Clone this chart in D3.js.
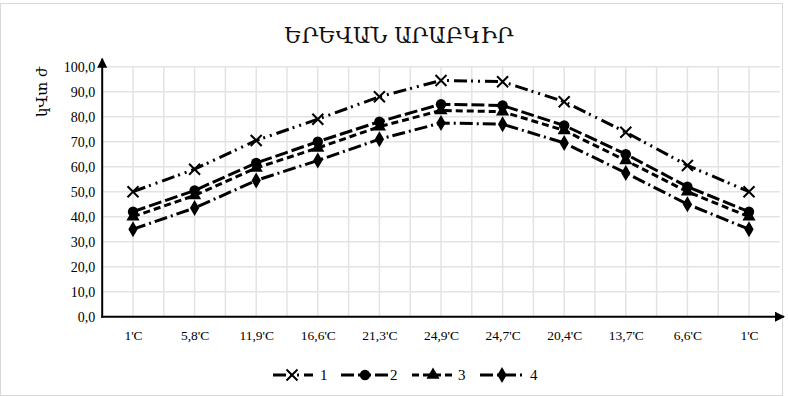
<!DOCTYPE html>
<html>
<head>
<meta charset="utf-8">
<script src="https://cdn.jsdelivr.net/npm/d3@7"></script>
<style>
  html, body { margin: 0; padding: 0; background: #fff; }
  svg { display: block; }
</style>
</head>
<body>
<div id="chart"></div>
<script>
// Monthly mean temperatures (category labels) and the four consumption series
const categories = ["1'C", "5,8'C", "11,9'C", "16,6'C", "21,3'C", "24,9'C", "24,7'C", "20,4'C", "13,7'C", "6,6'C", "1'C"];
const series1 = [50, 59, 70.5, 79, 88, 94.5, 94, 86, 73.8, 60.5, 50];
const series2 = [42, 50.5, 61.5, 70, 78, 85, 84.5, 76.5, 65, 52, 42];
const series3 = [40, 48.5, 59.5, 67.5, 76, 82.5, 82, 74.5, 62.5, 50, 40];
const series4 = [35, 43.5, 54.5, 62.5, 71, 77.5, 77, 69.5, 57.5, 45, 35];
const seriesNames = ["1", "2", "3", "4"];
const yTicks = [0, 10, 20, 30, 40, 50, 60, 70, 80, 90, 100];
const titleText = "ԵՐԵՎԱՆ ԱՐԱԲԿԻՐ";
const yTitle = "կՎտ ժ";

const W = 788, H = 396;
const serif = "'Liberation Serif', 'DejaVu Serif', serif";
const armFont = "'DejaVu Serif', serif";

const svg = d3.select("#chart").append("svg")
  .attr("width", W).attr("height", H);

// chart frame
svg.append("rect")
  .attr("x", 0.5).attr("y", 3.5).attr("width", W - 6).attr("height", H - 4)
  .attr("fill", "#fff").attr("stroke", "#d9d9d9").attr("stroke-width", 1);

const x = d3.scalePoint().domain(d3.range(categories.length)).range([133, 749]);
const step = x.step();
const y = d3.scaleLinear().domain([0, 100]).range([316.7, 66.7]);

// gridlines: horizontal at each tick, vertical at categories and between them
const grid = svg.append("g").attr("stroke", "#e3e3e3").attr("stroke-width", 1.5);
yTicks.filter(t => t > 0).forEach(t => {
  grid.append("line").attr("x1", x(0) - step / 2).attr("x2", x(10) + step / 2)
    .attr("y1", y(t)).attr("y2", y(t));
});
for (let i = 1; i <= 2 * (categories.length - 1) + 1; i++) {
  const gx = x(0) - step / 2 + i * step / 2;
  grid.append("line").attr("x1", gx).attr("x2", gx).attr("y1", y(100)).attr("y2", y(0));
}

// y axis labels
const yAxis = d3.axisLeft(y).tickValues(yTicks)
  .tickFormat(d => d3.format(".1f")(d).replace(".", ","))
  .tickSize(0).tickPadding(7);
const yg = svg.append("g").attr("transform", `translate(${x(0) - step / 2},0)`).call(yAxis);
yg.select(".domain").remove();
yg.selectAll("text").attr("font-family", serif).attr("font-size", 14).attr("fill", "#000");

// x axis labels
const xAxis = d3.axisBottom(x).tickFormat(i => categories[i]).tickSize(0).tickPadding(14);
const xg = svg.append("g").attr("transform", `translate(0,${y(0)})`).call(xAxis);
xg.select(".domain").remove();
xg.selectAll("text").attr("font-family", serif).attr("font-size", 13.5).attr("fill", "#000");

// axis lines with arrowheads
const defs = svg.append("defs");
defs.append("marker").attr("id", "arrow").attr("viewBox", "0 0 10 10")
  .attr("refX", 9).attr("refY", 5).attr("markerWidth", 5).attr("markerHeight", 5)
  .attr("markerUnits", "strokeWidth").attr("orient", "auto")
  .append("path").attr("d", "M0,0 L10,5 L0,10 Z").attr("fill", "#000");
const x0 = x(0) - step / 2;
svg.append("line").attr("x1", x0).attr("x2", x0).attr("y1", y(0) + 1).attr("y2", y(100) - 8)
  .attr("stroke", "#000").attr("stroke-width", 2).attr("marker-end", "url(#arrow)");
svg.append("line").attr("x1", x0 - 1).attr("x2", 784).attr("y1", y(0)).attr("y2", y(0))
  .attr("stroke", "#000").attr("stroke-width", 2).attr("marker-end", "url(#arrow)");

// series styles
const dashes = ["13,4,2,5,2,5", "13,4", "7,4", "13,4,2,4"];
const markerSym = [null, d3.symbolCircle, d3.symbolTriangle, d3.symbolDiamond];
const markerSize = [0, 85, 75, 75];
const data = [series1, series2, series3, series4];

function drawMarker(g, k, cx, cy) {
  if (k === 0) {
    const s = 5.5;
    g.append("path").attr("d", `M${cx - s},${cy - s}L${cx + s},${cy + s}M${cx - s},${cy + s}L${cx + s},${cy - s}`)
      .attr("stroke", "#000").attr("stroke-width", 2).attr("fill", "none");
  } else {
    g.append("path").attr("d", d3.symbol().type(markerSym[k]).size(markerSize[k])())
      .attr("transform", `translate(${cx},${cy})`).attr("fill", "#000");
  }
}

const line = d3.line().x((d, i) => x(i)).y(d => y(d));
const plot = svg.append("g");
data.forEach((vals, k) => {
  plot.append("path").datum(vals).attr("d", line)
    .attr("fill", "none").attr("stroke", "#000").attr("stroke-width", 3)
    .attr("stroke-dasharray", dashes[k]);
});
data.forEach((vals, k) => {
  vals.forEach((v, i) => drawMarker(plot, k, x(i), y(v)));
});

// legend
const legendY = 375;
const legendItems = [
  { x1: 273, x2: 313, mx: 292, tx: 320 },
  { x1: 341, x2: 388, mx: 365, tx: 390 },
  { x1: 412, x2: 456, mx: 433, tx: 458 },
  { x1: 480, x2: 524, mx: 502, tx: 530 }
];
const lg = svg.append("g");
legendItems.forEach((it, k) => {
  lg.append("line").attr("x1", it.x1).attr("x2", it.x2).attr("y1", legendY).attr("y2", legendY)
    .attr("stroke", "#000").attr("stroke-width", 3).attr("stroke-dasharray", dashes[k]);
  drawMarker(lg, k, it.mx, legendY);
  lg.append("text").attr("x", it.tx).attr("y", legendY + 5)
    .attr("font-family", serif).attr("font-size", 15).text(seriesNames[k]);
});

// titles
svg.append("text").attr("x", 399).attr("y", 43).attr("text-anchor", "middle")
  .attr("font-family", armFont).attr("font-size", 21.5).attr("fill", "#111").text(titleText);
svg.append("text").attr("transform", "translate(47,92) rotate(-90)").attr("text-anchor", "middle")
  .attr("font-family", armFont).attr("font-size", 15).attr("fill", "#000").text(yTitle);
</script>
</body>
</html>
